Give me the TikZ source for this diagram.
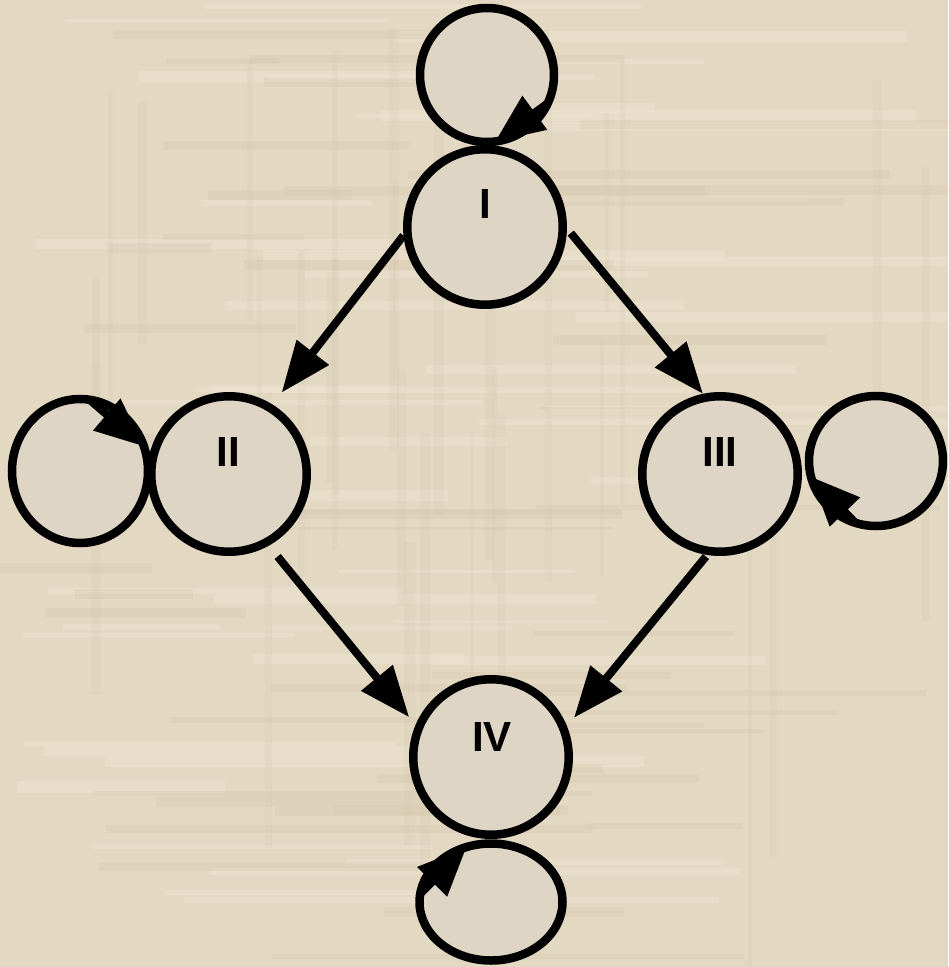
\documentclass[tikz,border=0pt]{standalone}
\usepackage{fontspec}
\setmainfont{Liberation Sans}
\usetikzlibrary{arrows.meta,calc}
\definecolor{bgcol}{RGB}{227,216,193}
\definecolor{bglight}{RGB}{240,232,214}
\definecolor{bgdark}{RGB}{205,193,168}
\definecolor{nodefill}{RGB}{222,213,197}
\begin{document}
\begin{tikzpicture}[x=0.02cm,y=-0.02cm,
  state/.style={circle,draw=black,line width=0.17cm,fill=nodefill,minimum size=3.11cm,inner sep=0pt},
  loopc/.style={draw=black,line width=0.17cm,fill=nodefill},
  arr/.style={line width=0.16cm,-{Triangle[length=1.02cm,width=0.78cm]}},
  looparr/.style={line width=0.16cm,-{Triangle[length=0.98cm,width=0.8cm]}},
  lbl/.style={font=\bfseries\fontsize{24}{24}\selectfont,anchor=base,inner sep=0pt}]
\useasboundingbox (0,0) rectangle (948,967);
\begin{scope}
\clip (0,0) rectangle (948,967);
\fill[bgcol] (0,0) rectangle (948,967);
\pgfmathsetseed{7}
\foreach \k in {1,...,45}{
  \pgfmathsetmacro{\yy}{rnd*967}
  \pgfmathsetmacro{\hh}{3+rnd*9}
  \pgfmathsetmacro{\xa}{rnd*600}
  \pgfmathsetmacro{\xb}{\xa+150+rnd*400}
  \fill[bglight,opacity=0.35] (\xa,\yy) rectangle (\xb,\yy+\hh);
}
\foreach \k in {1,...,45}{
  \pgfmathsetmacro{\yy}{rnd*967}
  \pgfmathsetmacro{\hh}{3+rnd*8}
  \pgfmathsetmacro{\xa}{rnd*600}
  \pgfmathsetmacro{\xb}{\xa+100+rnd*400}
  \fill[bgdark,opacity=0.22] (\xa,\yy) rectangle (\xb,\yy+\hh);
}
\foreach \k in {1,...,30}{
  \pgfmathsetmacro{\xx}{rnd*948}
  \pgfmathsetmacro{\ww}{3+rnd*8}
  \pgfmathsetmacro{\ya}{rnd*600}
  \pgfmathsetmacro{\yb}{\ya+150+rnd*400}
  \fill[bgdark,opacity=0.15] (\xx,\ya) rectangle (\xx+\ww,\yb);
}
\end{scope}
% loop centres
\coordinate (cT) at (487,75);
\coordinate (cL) at (80,471);
\coordinate (cR) at (876,461);
\coordinate (cB) at (491,902);
% loops
\draw[loopc] (cT) ellipse [x radius=67, y radius=67];
\draw[loopc] (cL) ellipse [x radius=68, y radius=72];
\draw[loopc] (cR) ellipse [x radius=67, y radius=65];
\draw[loopc] (cB) ellipse [x radius=71.5, y radius=58.5];
% states
\node[state] (I) at (485,227) {};
\node[state] (II) at (229,474) {};
\node[state] (III) at (720,474) {};
\node[state] (IV) at (491,757) {};
% labels
\node[lbl] (lI) at (485,218) {I};
\node[lbl] (lII) at (228,466) {II};
\node[lbl] (lIII) at (720,466) {III};
\node[lbl] (lIV) at (492,751) {IV};
% connectors
\draw[arr,shorten >=0.3cm] (I.186) -- (II.58);
\draw[arr,shorten <=0.12cm] (I.359) -- (III.102);
\draw[arr,shorten <=0.28cm,shorten >=0.2cm] (II.299) -- (IV.157.5);
\draw[arr,shorten <=0.04cm,shorten >=0.22cm] (III.261) -- (IV.22);
% loop arrowheads
\draw[looparr] ($(cT)+(25:67 and 67)$) -- ($(cT)+(83:67 and 67)$);
\draw[looparr] ($(cL)+(-82:68 and 72)$) -- ($(cL)+(-20:68 and 72)$);
\draw[looparr] ($(cR)+(108:67 and 65)$) -- ($(cR)+(166:67 and 65)$);
\draw[looparr] ($(cB)+(188:71.5 and 58.5)$) -- ($(cB)+(250:71.5 and 58.5)$);
\end{tikzpicture}
\end{document}
